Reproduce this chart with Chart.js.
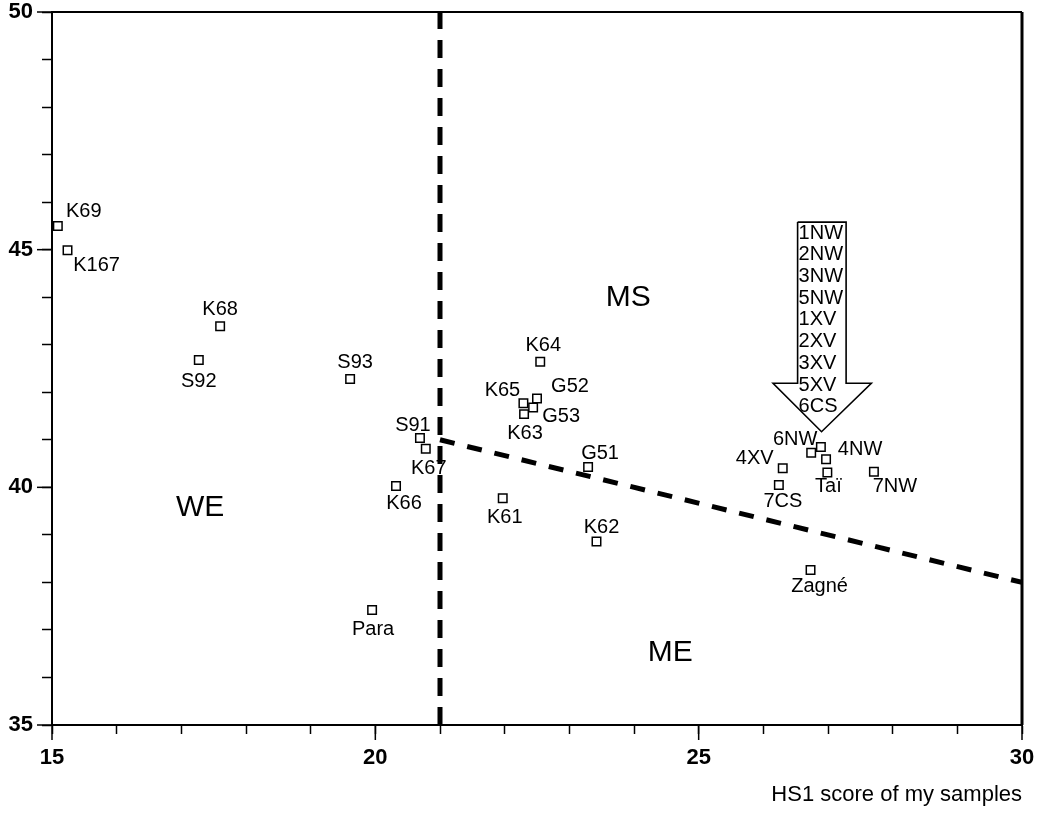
<!DOCTYPE html>
<html><head><meta charset="utf-8">
<script src="https://cdn.jsdelivr.net/npm/chart.js@4/dist/chart.umd.min.js"></script>
<style>html,body{margin:0;padding:0;background:#fff;}canvas{display:block;}</style>
</head><body>
<canvas id="c" width="1046" height="817"></canvas>
<script>
// ---- data ----
const sampleNames = ['K69','K167','K68','S92','S93','S91','K67','K66','Para','K64','K65','G52','G53','K63','G51','K61','K62','Zagné','6NW','','4NW','Taï','4XV','7CS','7NW'];
const sampleX = [15.09,15.24,17.60,17.27,19.61,20.69,20.78,20.32,19.95,22.55,22.29,22.50,22.44,22.30,23.29,21.97,23.42,26.73,26.74,26.89,26.97,26.99,26.30,26.24,27.71];
const sampleY = [45.50,44.99,43.39,42.68,42.28,41.04,40.81,40.03,37.42,42.64,41.77,41.87,41.68,41.54,40.43,39.77,38.86,38.26,40.73,40.85,40.59,40.31,40.40,40.05,40.33];

const verticalDividerX = [21, 21];
const verticalDividerY = [35, 50];
const slopedDividerX = [21, 30];
const slopedDividerY = [41, 38];

const arrowX = [26.53, 27.28, 27.28, 27.67, 26.90, 26.15, 26.53, 26.53];
const arrowY = [45.58, 45.58, 42.19, 42.19, 41.17, 42.19, 42.19, 45.58];
const arrowLabels = ['1NW','2NW','3NW','5NW','1XV','2XV','3XV','5XV','6CS'];

const regionNames = ['WE','MS','ME'];
const regionX = [17.29, 23.91, 24.56];
const regionY = [39.58, 43.98, 36.53];

const xTickLabels = [15, 20, 25, 30];
const yTickLabels = [35, 40, 45, 50];
const xTitle = 'HS1 score of my samples';

// ---- styling / placement (pixels, not data) ----
const FONT = '"Liberation Sans", Arial, Helvetica, sans-serif';
const labelOffset = {
  'K69':[26,-14],'K167':[29,15],'K68':[0,-17],'S92':[0,22],'S93':[5,-16],'S91':[-7,-12],
  'K67':[3,20],'K66':[8,18],'Para':[1,20],'K64':[3,-16],'K65':[-21,-13],'G52':[33,-12],
  'G53':[28,9],'K63':[1,19],'G51':[12,-13],'K61':[2,19],'K62':[5,-14],'Zagné':[9,16],
  '6NW':[-16,-13],'4NW':[34,-10],'Taï':[1,14],'4XV':[-28,-10],'7CS':[4,17],'7NW':[21,15]
};

const toPts = (xs, ys) => xs.map((x, i) => ({x, y: ys[i]}));

const labelsPlugin = {
  id: 'labels',
  afterDatasetsDraw(chart) {
    const ctx = chart.ctx;
    const xs = chart.scales.x, ys = chart.scales.y;
    ctx.save();
    ctx.fillStyle = '#000';
    ctx.textBaseline = 'middle';
    ctx.textAlign = 'center';
    // point labels
    ctx.font = '20px ' + FONT;
    const meta = chart.getDatasetMeta(0);
    meta.data.forEach((el, i) => {
      const name = sampleNames[i];
      if (!name) return;
      const off = labelOffset[name] || [0, -15];
      ctx.fillText(name, el.x + off[0], el.y + off[1]);
    });
    // region labels
    ctx.font = '30px ' + FONT;
    regionNames.forEach((n, i) => {
      ctx.fillText(n, xs.getPixelForValue(regionX[i]), ys.getPixelForValue(regionY[i]));
    });
    // arrow labels
    ctx.font = '20px ' + FONT;
    ctx.textAlign = 'left';
    const ax = xs.getPixelForValue(arrowX[0]) + 1;
    const ay = ys.getPixelForValue(arrowY[0]) + 11;
    arrowLabels.forEach((t, i) => ctx.fillText(t, ax, ay + i * 21.7));
    // frame: top and right
    const a = chart.chartArea;
    ctx.strokeStyle = '#000';
    ctx.lineWidth = 2;
    ctx.beginPath();
    ctx.moveTo(a.left, a.top); ctx.lineTo(a.right, a.top);
    ctx.stroke();
    ctx.lineWidth = 3;
    ctx.beginPath();
    ctx.moveTo(a.right, a.top); ctx.lineTo(a.right, a.bottom);
    ctx.stroke();
    // longer major ticks
    ctx.lineWidth = 1.5;
    xTickLabels.forEach(v => {
      const px = xs.getPixelForValue(v);
      ctx.beginPath(); ctx.moveTo(px, a.bottom); ctx.lineTo(px, a.bottom + 15); ctx.stroke();
    });
    yTickLabels.forEach(v => {
      const py = ys.getPixelForValue(v);
      ctx.beginPath(); ctx.moveTo(a.left, py); ctx.lineTo(a.left - 15, py); ctx.stroke();
    });
    ctx.restore();
  }
};

new Chart(document.getElementById('c'), {
  type: 'scatter',
  data: {
    datasets: [
      { data: toPts(sampleX, sampleY), pointStyle: 'rect', pointRadius: 6, pointBorderWidth: 1.5,
        borderColor: '#000', backgroundColor: '#fff', pointHoverRadius: 6 },
      { data: toPts(verticalDividerX, verticalDividerY), showLine: true, pointRadius: 0,
        borderColor: '#000', borderWidth: 5, borderDash: [18, 11] },
      { data: toPts(slopedDividerX, slopedDividerY), showLine: true, pointRadius: 0,
        borderColor: '#000', borderWidth: 5, borderDash: [15, 13] },
      { data: toPts(arrowX, arrowY), showLine: true, pointRadius: 0,
        borderColor: '#000', borderWidth: 1.6, backgroundColor: '#fff', tension: 0 }
    ]
  },
  options: {
    responsive: false,
    animation: false,
    devicePixelRatio: 1,
    layout: { padding: { top: 12, right: 24, left: 0, bottom: 0 } },
    plugins: { legend: { display: false }, tooltip: { enabled: false } },
    scales: {
      x: {
        type: 'linear', min: 15, max: 30,
        afterFit: s => { s.height = 92; s.paddingLeft = 0; s.paddingRight = 0; },
        ticks: { stepSize: 1, autoSkip: false, maxRotation: 0, padding: 11, color: '#000',
          font: { family: FONT, size: 22, weight: 'bold' },
          callback: v => xTickLabels.includes(v) ? String(v) : '' },
        grid: { drawOnChartArea: false, tickLength: 9, tickColor: '#000', tickWidth: 1.5 },
        border: { display: true, color: '#000', width: 2 },
        title: { display: true, text: xTitle, align: 'end', color: '#000',
          font: { family: FONT, size: 22 }, padding: { top: 0, bottom: 9 } }
      },
      y: {
        type: 'linear', min: 35, max: 50,
        afterFit: s => { s.width = 52; s.paddingTop = 0; s.paddingBottom = 0; },
        ticks: { stepSize: 1, autoSkip: false, padding: 9, color: '#000',
          font: { family: FONT, size: 22, weight: 'bold' },
          callback: v => yTickLabels.includes(v) ? String(v) : '' },
        grid: { drawOnChartArea: false, tickLength: 10, tickColor: '#000', tickWidth: 1.5 },
        border: { display: true, color: '#000', width: 2 }
      }
    }
  },
  plugins: [labelsPlugin]
});
</script>
</body></html>
